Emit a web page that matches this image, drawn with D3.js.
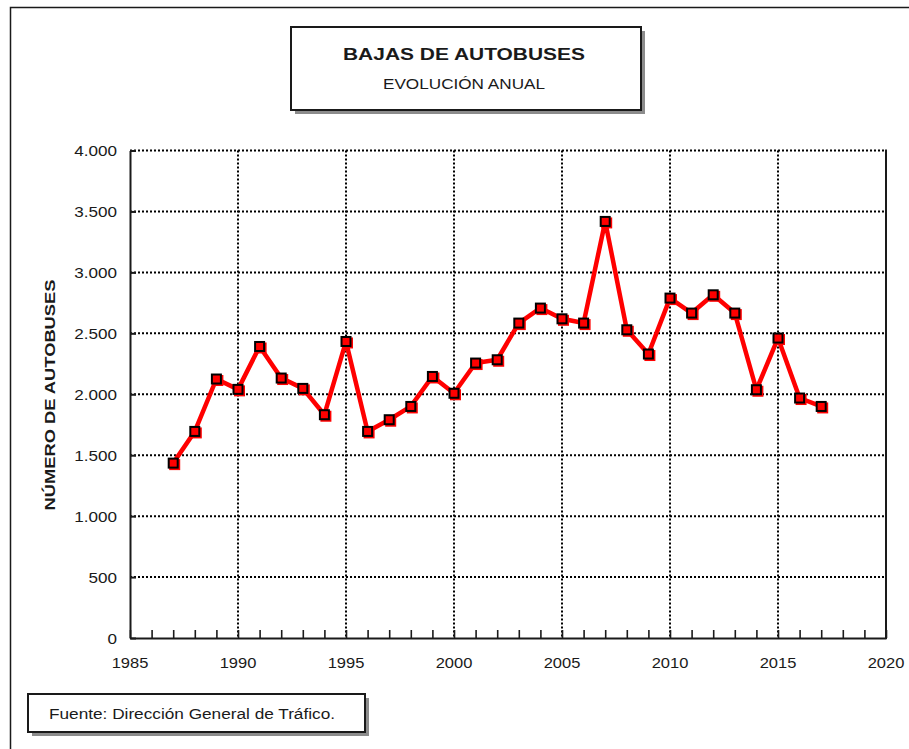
<!DOCTYPE html>
<html>
<head>
<meta charset="utf-8">
<script src="https://cdn.jsdelivr.net/npm/d3@7"></script>
<style>
  body { margin: 0; background: #fff; }
  svg { display: block; font-family: "Liberation Sans", Arial, sans-serif; }
</style>
</head>
<body>
<svg id="chart"></svg>
<script>
let years = [1987, 1988, 1989, 1990, 1991, 1992, 1993, 1994, 1995, 1996,
  1997, 1998, 1999, 2000, 2001, 2002, 2003, 2004, 2005, 2006,
  2007, 2008, 2009, 2010, 2011, 2012, 2013, 2014, 2015, 2016, 2017];
let bajas = [1435, 1695, 2125, 2040, 2392, 2133, 2048, 1832, 2433, 1695,
  1791, 1900, 2146, 2008, 2256, 2283, 2584, 2707, 2619, 2584,
  3418, 2529, 2330, 2789, 2666, 2816, 2666, 2037, 2461, 1969, 1900];
let xTicks = [1985, 1990, 1995, 2000, 2005, 2010, 2015, 2020];
let yTicks = [0, 500, 1000, 1500, 2000, 2500, 3000, 3500, 4000];

let titleText = 'BAJAS DE AUTOBUSES';
let subtitleText = 'EVOLUCIÓN ANUAL';
let yTitle = 'NÚMERO DE AUTOBUSES';
let sourceText = 'Fuente: Dirección General de Tráfico.';

let width = 909, height = 749;
let plot = { left: 130, right: 886, top: 150.5, bottom: 638 };
let ink = '#1a1a1a';

let svg = d3.select('#chart')
  .attr('width', width)
  .attr('height', height);

// outer frame (only top and left edges are visible)
svg.append('rect')
  .attr('x', 10.5).attr('y', 7.5)
  .attr('width', 1000).attr('height', 1000)
  .attr('fill', 'none')
  .attr('stroke', ink)
  .attr('stroke-width', 1.5);

let xScale = d3.scaleLinear()
  .domain([1985, 2020])
  .range([plot.left, plot.right]);

let yScale = d3.scaleLinear()
  .domain([0, 4000])
  .range([plot.bottom, plot.top]);

let fmt = d3.formatLocale({ decimal: ',', thousands: '.', grouping: [3], currency: ['', '€'] }).format(',d');

// gridlines
let grid = svg.append('g').attr('class', 'grid');
grid.selectAll('.hgrid')
  .data(yTicks.filter(d => d > 0))
  .enter()
  .append('line')
  .attr('x1', plot.left).attr('x2', plot.right)
  .attr('y1', d => yScale(d)).attr('y2', d => yScale(d))
  .attr('stroke', '#000')
  .attr('stroke-width', 2)
  .attr('stroke-dasharray', '2,2');

grid.selectAll('.vgrid')
  .data(xTicks.filter(d => d > 1985 && d < 2020))
  .enter()
  .append('line')
  .attr('x1', d => xScale(d)).attr('x2', d => xScale(d))
  .attr('y1', plot.top).attr('y2', plot.bottom)
  .attr('stroke', '#000')
  .attr('stroke-width', 2)
  .attr('stroke-dasharray', '2,2');

// axes
let xAxis = d3.axisBottom(xScale)
  .tickValues(d3.range(1985, 2021))
  .tickSizeInner(-8)
  .tickSizeOuter(0)
  .tickFormat('');

let gx = svg.append('g')
  .attr('transform', `translate(0, ${plot.bottom})`)
  .call(xAxis);
gx.select('.domain').attr('stroke', ink).attr('stroke-width', 2);
gx.selectAll('.tick line').attr('stroke', ink).attr('stroke-width', 1.6);

let yAxis = d3.axisLeft(yScale)
  .tickValues(yTicks)
  .tickSizeInner(-6)
  .tickSizeOuter(0)
  .tickFormat('');

let gy = svg.append('g')
  .attr('transform', `translate(${plot.left}, 0)`)
  .call(yAxis);
gy.select('.domain').attr('stroke', ink).attr('stroke-width', 2);
gy.selectAll('.tick line').attr('stroke', ink).attr('stroke-width', 2);

// right border
svg.append('line')
  .attr('x1', plot.right).attr('x2', plot.right)
  .attr('y1', plot.top - 1).attr('y2', plot.bottom + 1)
  .attr('stroke', ink)
  .attr('stroke-width', 2);

// tick labels (source font is slightly stretched horizontally)
svg.append('g')
  .selectAll('text')
  .data(yTicks)
  .enter()
  .append('text')
  .attr('transform', d => `translate(117, ${yScale(d) + 5.5}) scale(1.14, 1)`)
  .attr('text-anchor', 'end')
  .attr('font-size', 15)
  .attr('fill', ink)
  .text(d => fmt(d));

svg.append('g')
  .selectAll('text')
  .data(xTicks)
  .enter()
  .append('text')
  .attr('transform', d => `translate(${xScale(d)}, 668) scale(1.1, 1)`)
  .attr('text-anchor', 'middle')
  .attr('font-size', 15)
  .attr('fill', ink)
  .text(d => d);

// y axis title
svg.append('text')
  .attr('transform', 'translate(55, 395) rotate(-90)')
  .attr('text-anchor', 'middle')
  .attr('font-size', 15)
  .attr('font-weight', 'bold')
  .attr('fill', ink)
  .attr('textLength', 231)
  .attr('lengthAdjust', 'spacingAndGlyphs')
  .text(yTitle);

// series
let points = years.map((y, i) => ({ year: y, value: bajas[i] }));

let line = d3.line()
  .x(d => xScale(d.year))
  .y(d => yScale(d.value));

svg.append('path')
  .datum(points)
  .attr('d', line)
  .attr('fill', 'none')
  .attr('stroke', '#ff0000')
  .attr('stroke-width', 4.5)
  .attr('stroke-linejoin', 'round');

let markers = svg.selectAll('.marker')
  .data(points)
  .enter()
  .append('g')
  .attr('class', 'marker')
  .attr('transform', d => `translate(${xScale(d.year)}, ${yScale(d.value)})`);

markers.append('rect')
  .attr('x', -4).attr('y', -4)
  .attr('width', 11).attr('height', 11)
  .attr('fill', '#ff0000');

markers.append('rect')
  .attr('x', -4.5).attr('y', -4.5)
  .attr('width', 9).attr('height', 9)
  .attr('fill', '#ff0000')
  .attr('stroke', '#000')
  .attr('stroke-width', 2);

// boxed texts with drop shadow
let box = (x, y, w, h) => {
  svg.append('rect')
    .attr('x', x + 4).attr('y', y + 4)
    .attr('width', w).attr('height', h)
    .attr('fill', '#8c8c8c');
  svg.append('rect')
    .attr('x', x).attr('y', y)
    .attr('width', w).attr('height', h)
    .attr('fill', '#fff')
    .attr('stroke', ink)
    .attr('stroke-width', 2);
};

box(291, 27, 350, 83);

svg.append('text')
  .attr('x', 464).attr('y', 59.5)
  .attr('text-anchor', 'middle')
  .attr('font-size', 16)
  .attr('font-weight', 'bold')
  .attr('fill', ink)
  .attr('textLength', 242)
  .attr('lengthAdjust', 'spacingAndGlyphs')
  .text(titleText);

svg.append('text')
  .attr('x', 464).attr('y', 89)
  .attr('text-anchor', 'middle')
  .attr('font-size', 14)
  .attr('fill', ink)
  .attr('textLength', 162)
  .attr('lengthAdjust', 'spacingAndGlyphs')
  .text(subtitleText);

box(28, 694, 337, 38);

svg.append('text')
  .attr('x', 49).attr('y', 718.5)
  .attr('font-size', 14)
  .attr('fill', ink)
  .attr('textLength', 286)
  .attr('lengthAdjust', 'spacingAndGlyphs')
  .text(sourceText);
</script>
</body>
</html>
